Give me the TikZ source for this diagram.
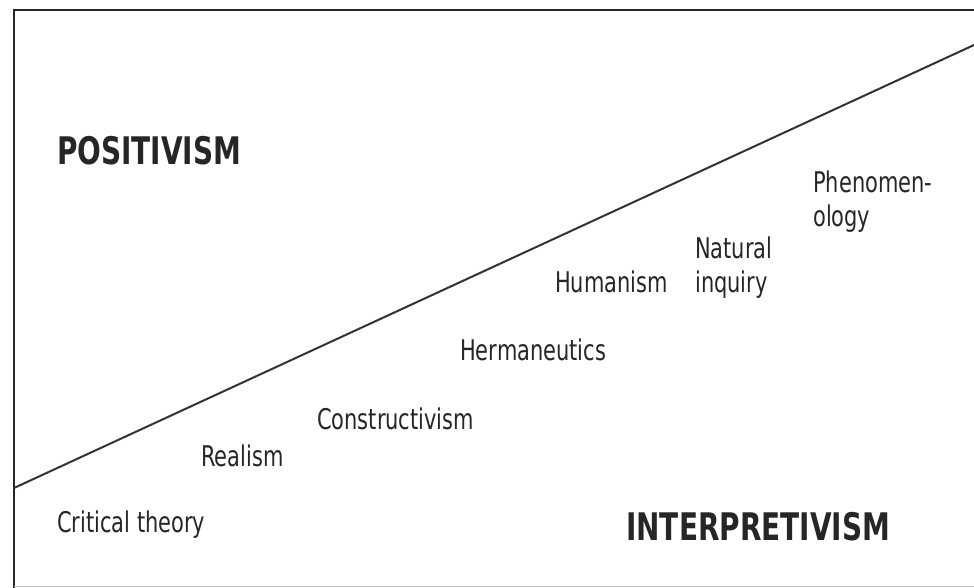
\documentclass[tikz,border=0pt]{standalone}
\usepackage{fontspec}
\setmainfont{DejaVu Sans}[FakeStretch=0.735]
\begin{document}
\begin{tikzpicture}[x=1pt,y=-1pt,
  lbl/.style={anchor=base west,inner sep=0pt,text=black!85,font=\fontsize{28.5}{34}\selectfont},
  big/.style={anchor=base west,inner sep=0pt,text=black!85,font=\fontsize{38}{44}\selectfont\bfseries},
  frame/.style={line width=2.2pt,draw=black!85},
  divider/.style={line width=2pt,draw=black!80}]
\useasboundingbox (0,0) rectangle (974,588);
\draw[frame] (974,10) -- (14,10) -- (14,588);
\draw[line width=0.8pt,draw=black!25] (14,586) -- (974,586);
\coordinate (dl) at (14,488);
\coordinate (dr) at (974,45);
\draw[divider] (dl) -- (dr);
\node[big] (pos) at (57,165) {POSITIVISM};
\node[big] (int) at (626,540) {INTERPRETIVISM};
\node[lbl] (crit) at (57,532) {Critical theory};
\node[lbl] (real) at (201,466) {Realism};
\node[lbl] (cons) at (317,429) {Constructivism};
\node[lbl] (herm) at (460,360) {Hermaneutics};
\node[lbl] (hum) at (555,292) {Humanism};
\node[lbl,align=left] (nat) at (695,292) {Natural\\inquiry};
\node[lbl,align=left] (phen) at (813,226) {Phenomen-\\ology};
\end{tikzpicture}
\end{document}
